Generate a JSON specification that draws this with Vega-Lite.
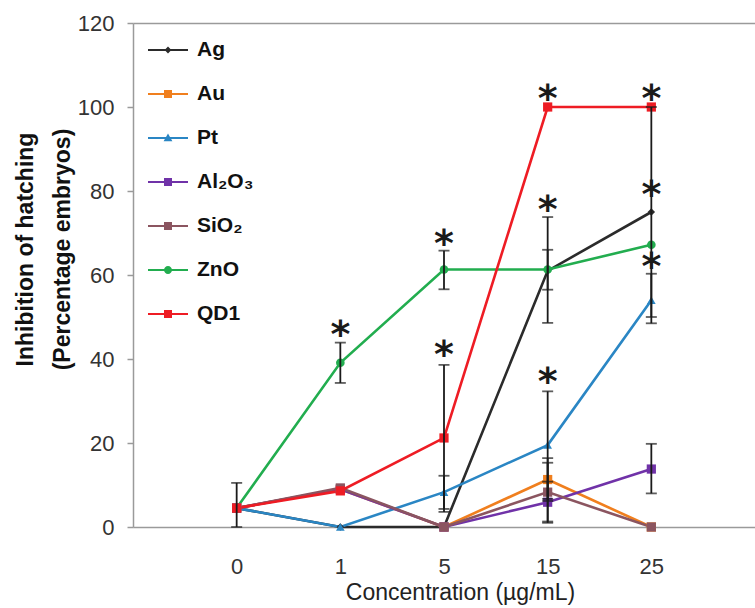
{
  "$schema": "https://vega.github.io/schema/vega-lite/v6.json",
  "width": 622,
  "height": 504,
  "autosize": "none",
  "padding": {"left": 133, "top": 23, "right": 0, "bottom": 81},
  "background": "white",
  "config": {"view": {"stroke": null}, "font": "Liberation Sans"},
  "datasets": {
    "leg": [
      {"s": "Ag"}, {"s": "Au"}, {"s": "Pt"}, {"s": "Al₂O₃"}, {"s": "SiO₂"}, {"s": "ZnO"}, {"s": "QD1"}
    ],
    "pts": [
      {"s": "Ag", "c": "0", "v": 4.5}, {"s": "Ag", "c": "1", "v": 0}, {"s": "Ag", "c": "5", "v": 0}, {"s": "Ag", "c": "15", "v": 61}, {"s": "Ag", "c": "25", "v": 75},
      {"s": "Au", "c": "0", "v": 4.5}, {"s": "Au", "c": "1", "v": 9}, {"s": "Au", "c": "5", "v": 0}, {"s": "Au", "c": "15", "v": 11.3}, {"s": "Au", "c": "25", "v": 0},
      {"s": "Pt", "c": "0", "v": 4.5}, {"s": "Pt", "c": "1", "v": 0}, {"s": "Pt", "c": "5", "v": 8.3}, {"s": "Pt", "c": "15", "v": 19.5}, {"s": "Pt", "c": "25", "v": 54},
      {"s": "Al₂O₃", "c": "0", "v": 4.5}, {"s": "Al₂O₃", "c": "1", "v": 9}, {"s": "Al₂O₃", "c": "5", "v": 0}, {"s": "Al₂O₃", "c": "15", "v": 5.9}, {"s": "Al₂O₃", "c": "25", "v": 13.8},
      {"s": "SiO₂", "c": "0", "v": 4.5}, {"s": "SiO₂", "c": "1", "v": 9.3}, {"s": "SiO₂", "c": "5", "v": 0}, {"s": "SiO₂", "c": "15", "v": 8.3}, {"s": "SiO₂", "c": "25", "v": 0},
      {"s": "ZnO", "c": "0", "v": 4.5}, {"s": "ZnO", "c": "1", "v": 39.1}, {"s": "ZnO", "c": "5", "v": 61.3}, {"s": "ZnO", "c": "15", "v": 61.3}, {"s": "ZnO", "c": "25", "v": 67.2},
      {"s": "QD1", "c": "0", "v": 4.5}, {"s": "QD1", "c": "1", "v": 8.6}, {"s": "QD1", "c": "5", "v": 21.2}, {"s": "QD1", "c": "15", "v": 100}, {"s": "QD1", "c": "25", "v": 100}
    ],
    "err": [
      {"s": "QD1", "c": "0", "lo": 0, "hi": 10.5},
      {"s": "ZnO", "c": "1", "lo": 34.3, "hi": 43.9},
      {"s": "ZnO", "c": "5", "lo": 56.6, "hi": 65.8},
      {"s": "QD1", "c": "5", "lo": 3.6, "hi": 38.6},
      {"s": "Pt", "c": "5", "lo": 4.3, "hi": 12.2},
      {"s": "Ag", "c": "15", "lo": 48.6, "hi": 73.8},
      {"s": "ZnO", "c": "15", "lo": 56.5, "hi": 66},
      {"s": "Pt", "c": "15", "lo": 6.7, "hi": 32.3},
      {"s": "Au", "c": "15", "lo": 6.2, "hi": 16.4},
      {"s": "SiO₂", "c": "15", "lo": 1.3, "hi": 15.3},
      {"s": "Al₂O₃", "c": "15", "lo": 1.0, "hi": 10.8},
      {"s": "Ag", "c": "25", "lo": 50, "hi": 100},
      {"s": "Pt", "c": "25", "lo": 48.5, "hi": 60.3},
      {"s": "Al₂O₃", "c": "25", "lo": 8.0, "hi": 19.8}
    ],
    "stars": [
      {"c": "1", "y": 47.4},
      {"c": "5", "y": 69},
      {"c": "5", "y": 42.6},
      {"c": "15", "y": 103.6},
      {"c": "15", "y": 77.1},
      {"c": "15", "y": 36.2},
      {"c": "25", "y": 103.6},
      {"c": "25", "y": 80.6},
      {"c": "25", "y": 63.6}
    ]
  },
  "layer": [
    {
      "data": {"name": "leg"},
      "mark": {"type": "point", "filled": true, "size": 1600, "opacity": 1, "strokeWidth": 0},
      "encoding": {
        "x": {
          "field": "c", "type": "ordinal",
          "scale": {"type": "point", "padding": 1, "domain": ["0", "1", "5", "15", "25"]},
          "axis": {
            "title": "Concentration (µg/mL)", "labelAngle": 0, "ticks": false, "tickSize": 0,
            "domainColor": "#9a9a9a", "domainWidth": 1.5,
            "labelFontSize": 22, "labelColor": "#333", "labelPadding": 29,
            "titleFontSize": 23, "titleFontWeight": "normal", "titleColor": "#222", "titlePadding": 4,
            "titleX": 327
          }
        },
        "y": {
          "field": "v", "type": "quantitative",
          "scale": {"domain": [0, 120], "nice": false},
          "axis": {
            "title": ["Inhibition of hatching", "(Percentage embryos)"],
            "values": [0, 20, 40, 60, 80, 100, 120],
            "domainColor": "#9a9a9a", "domainWidth": 1.5,
            "tickColor": "#9a9a9a", "tickSize": 6, "tickWidth": 1.5,
            "labelFontSize": 22, "labelColor": "#333", "labelPadding": 13,
            "grid": true, "gridColor": "#9a9a9a", "gridWidth": 1.5,
            "gridOpacity": {"condition": {"test": "datum.value == 120", "value": 1}, "value": 0},
            "titleFontSize": 23, "titleFontWeight": "bold", "titleColor": "#111",
            "titlePadding": 3, "titleLineHeight": 37, "titleY": 226
          }
        },
        "color": {
          "field": "s", "type": "nominal",
          "scale": {
            "domain": ["Ag", "Au", "Pt", "Al₂O₃", "SiO₂", "ZnO", "QD1"],
            "range": ["#2b2b2b", "#f07f1e", "#2a86c4", "#7032a8", "#8b5560", "#22ad4f", "#ee1c24"]
          },
          "legend": {
            "title": null, "orient": "none", "legendX": 15, "legendY": 7, "padding": 0,
            "labelFontSize": 21, "labelFontWeight": "bold", "labelColor": "#111",
            "symbolSize": 1600, "symbolStrokeWidth": 0, "symbolOpacity": 1, "labelOffset": 9, "rowPadding": 14
          }
        },
        "shape": {
          "field": "s", "type": "nominal",
          "scale": {
            "domain": ["Ag", "Au", "Pt", "Al₂O₃", "SiO₂", "ZnO", "QD1"],
            "range": [
              "M-1,-0.05H1V0.05H-1ZM0,-0.17L0.17,0L0,0.17L-0.17,0Z",
              "M-1,-0.05H1V0.05H-1ZM-0.2,-0.2H0.2V0.2H-0.2Z",
              "M-1,-0.05H1V0.05H-1ZM0,-0.22L0.22,0.16H-0.22Z",
              "M-1,-0.05H1V0.05H-1ZM-0.2,-0.2H0.2V0.2H-0.2Z",
              "M-1,-0.05H1V0.05H-1ZM-0.2,-0.2H0.2V0.2H-0.2Z",
              "M-1,-0.05H1V0.05H-1ZM0.2,0A0.2,0.2,0,1,1,-0.2,0A0.2,0.2,0,1,1,0.2,0Z",
              "M-1,-0.05H1V0.05H-1ZM-0.2,-0.2H0.2V0.2H-0.2Z"
            ]
          },
          "legend": {
            "title": null, "orient": "none", "legendX": 15, "legendY": 7, "padding": 0,
            "labelFontSize": 21, "labelFontWeight": "bold", "labelColor": "#111",
            "symbolSize": 1600, "symbolStrokeWidth": 0, "symbolOpacity": 1, "labelOffset": 9, "rowPadding": 14
          }
        }
      }
    },
    {
      "data": {"name": "pts"},
      "mark": {"type": "line", "strokeWidth": 2.6},
      "encoding": {
        "x": {"field": "c", "type": "ordinal"},
        "y": {"field": "v", "type": "quantitative"},
        "color": {"field": "s", "type": "nominal"}
      }
    },
    {
      "data": {"name": "pts"},
      "transform": [{"filter": "datum.s === 'Ag'"}],
      "mark": {"type": "point", "filled": true, "size": 55, "opacity": 1, "shape": "diamond"},
      "encoding": {
        "x": {"field": "c", "type": "ordinal"},
        "y": {"field": "v", "type": "quantitative"},
        "color": {"field": "s", "type": "nominal"}
      }
    },
    {
      "data": {"name": "pts"},
      "transform": [{"filter": "datum.s === 'Pt'"}],
      "mark": {"type": "point", "filled": true, "size": 75, "opacity": 1, "shape": "triangle-up"},
      "encoding": {
        "x": {"field": "c", "type": "ordinal"},
        "y": {"field": "v", "type": "quantitative"},
        "color": {"field": "s", "type": "nominal"}
      }
    },
    {
      "data": {"name": "pts"},
      "transform": [{"filter": "datum.s === 'ZnO'"}],
      "mark": {"type": "point", "filled": true, "size": 75, "opacity": 1, "shape": "circle"},
      "encoding": {
        "x": {"field": "c", "type": "ordinal"},
        "y": {"field": "v", "type": "quantitative"},
        "color": {"field": "s", "type": "nominal"}
      }
    },
    {
      "data": {"name": "pts"},
      "transform": [{"filter": "datum.s === 'Au' || datum.s === 'Al₂O₃' || datum.s === 'SiO₂' || datum.s === 'QD1'"}],
      "mark": {"type": "point", "filled": true, "size": 85, "opacity": 1, "shape": "square"},
      "encoding": {
        "x": {"field": "c", "type": "ordinal"},
        "y": {"field": "v", "type": "quantitative"},
        "color": {"field": "s", "type": "nominal"}
      }
    },
    {
      "data": {"name": "err"},
      "mark": {"type": "rule", "color": "#1a1a1a", "strokeWidth": 1.8},
      "encoding": {
        "x": {"field": "c", "type": "ordinal"},
        "y": {"field": "lo", "type": "quantitative"},
        "y2": {"field": "hi"}
      }
    },
    {
      "data": {"name": "err"},
      "mark": {"type": "tick", "orient": "horizontal", "color": "#1a1a1a", "size": 11, "thickness": 1.8},
      "encoding": {
        "x": {"field": "c", "type": "ordinal"},
        "y": {"field": "lo", "type": "quantitative"}
      }
    },
    {
      "data": {"name": "err"},
      "mark": {"type": "tick", "orient": "horizontal", "color": "#1a1a1a", "size": 11, "thickness": 1.8},
      "encoding": {
        "x": {"field": "c", "type": "ordinal"},
        "y": {"field": "hi", "type": "quantitative"}
      }
    },
    {
      "data": {"name": "stars"},
      "mark": {"type": "text", "text": "*", "font": "DejaVu Sans", "fontWeight": "bold", "fontSize": 38, "color": "#1a1a1a", "baseline": "alphabetic", "dy": 19},
      "encoding": {
        "x": {"field": "c", "type": "ordinal"},
        "y": {"field": "y", "type": "quantitative"}
      }
    }
  ]
}
